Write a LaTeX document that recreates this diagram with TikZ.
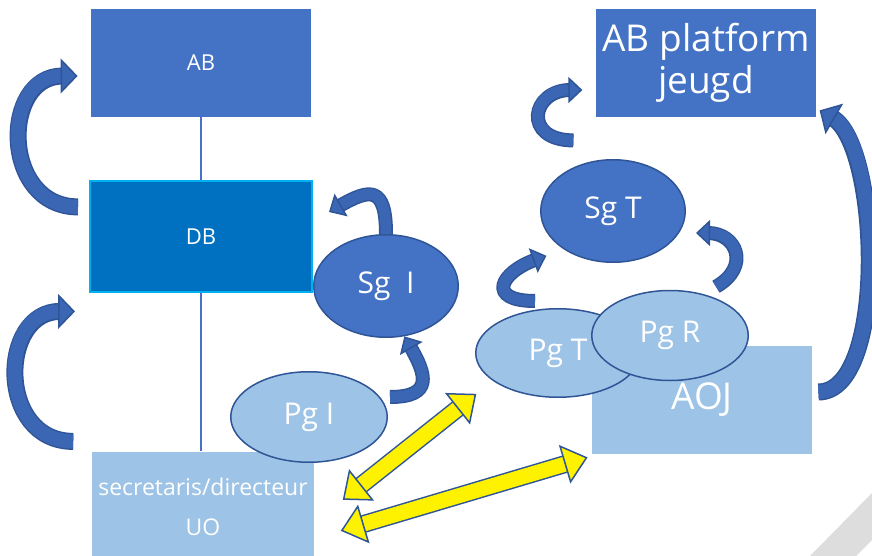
\documentclass[tikz,border=0pt]{standalone}
\usepackage{fontspec}
\setmainfont{Open Sans}
\usetikzlibrary{shapes.geometric, arrows.meta, positioning, calc}
\definecolor{boardblue}{HTML}{4472C4}
\definecolor{dbblue}{HTML}{0070C0}
\definecolor{dbedge}{HTML}{00B0F0}
\definecolor{paleblue}{HTML}{9DC3E6}
\definecolor{edgeblue}{HTML}{2F5597}
\definecolor{arrowblue}{HTML}{3B66B4}
\definecolor{cornergray}{HTML}{DDDDDD}
\tikzset{
    board/.style={
        rectangle,
        fill=boardblue,
        text=white,
        minimum width=110pt,
        minimum height=54pt,
        font=\fontsize{11}{13}\selectfont
    },
    dbbox/.style={
        board,
        draw=dbedge,
        line width=1pt,
        fill=dbblue,
        minimum width=111pt,
        minimum height=55.5pt
    },
    palebox/.style={
        rectangle,
        fill=paleblue,
        text=white,
        minimum width=110pt,
        minimum height=54pt
    },
    bigtext/.style={
        font=\fontsize{18.5}{21}\selectfont
    },
    darkoval/.style={
        ellipse,
        draw=edgeblue,
        line width=0.75pt,
        fill=boardblue,
        text=white,
        inner sep=0pt,
        font=\fontsize{15}{18}\selectfont
    },
    paleoval/.style={
        darkoval,
        fill=paleblue
    },
    orgline/.style={
        draw=boardblue,
        line width=0.6pt
    },
    bendarrow/.style={
        draw=arrowblue,
        line width=7pt,
        -{Triangle[width=17.5pt, length=8.5pt, line width=0.75pt, color=edgeblue, fill=arrowblue]},
        preaction={draw=edgeblue, line width=8.5pt, arrows=-, shorten >=7.5pt}
    },
    hookarrow/.style={
        draw=arrowblue,
        line width=5.5pt,
        -{Triangle[width=13pt, length=7pt, line width=0.75pt, color=edgeblue, fill=arrowblue]},
        preaction={draw=edgeblue, line width=7pt, arrows=-, shorten >=6pt}
    },
    twoway/.style={
        draw=yellow,
        line width=7.5pt,
        {Triangle[width=20pt, length=12pt, line width=0.75pt, color=edgeblue, fill=yellow]}-{Triangle[width=20pt, length=12pt, line width=0.75pt, color=edgeblue, fill=yellow]},
        preaction={draw=edgeblue, line width=9pt, arrows=-, shorten <=11pt, shorten >=11pt}
    }
}

\begin{document}
\begin{tikzpicture}[x=0.5pt, y=-0.5pt]
\useasboundingbox (0,0) rectangle (872,556);

% Corner
\fill[cornergray] (810,556) -- (872,493) -- (872,540) -- (856,556) -- cycle;

% Left column
\node[board] (ab) at (201,63) {AB};
\node[dbbox, below=31.5pt of ab] (db) {DB};
\node[palebox, below=79pt of db, xshift=1pt, minimum height=55.5pt, align=center, font=\fontsize{11.5}{20}\selectfont] (secr) {secretaris/directeur\\UO};

% Right column
\node[board, bigtext, right=142pt of ab, minimum width=109.5pt, align=center] (abp) {AB platform\\jeugd};
\node[palebox, bigtext] (aoj) at (702,400) {AOJ};

% Ovals
\node[paleoval, minimum width=82.25pt, minimum height=44.25pt] (pgt) at (558,353) {Pg T};
\node[paleoval, minimum width=78.25pt, minimum height=45pt] (pgr) at (670,335.5) {Pg R};
\node[darkoval, minimum width=72.25pt, minimum height=51.25pt] (sgt) at (613,211) {Sg T};
\node[darkoval, minimum width=72.25pt, minimum height=51.25pt] (sgi) at (386,286) {Sg\ \ I};
\node[paleoval, minimum width=78.25pt, minimum height=45.25pt] (pgi) at (309,417) {Pg I};

% Lines
\draw[orgline] (ab) -- (db);
\draw[orgline] (db) -- (secr.north -| db);

% Curved arrows
\draw[bendarrow] ($(db.west)+(-11,-30)$) to[out=180, in=180, looseness=1.5] ($(ab.west)+(-13,13)$);
\draw[bendarrow] ($(secr.north west)+(-18,-10)$) to[out=180, in=180, looseness=1.5] ($(db.south west)+(-14,18)$);
\draw[bendarrow] ($(aoj.east)+(6,-8)$) to[out=0, in=-30, looseness=0.63] ($(abp.south east)+(3,-7)$);
\draw[hookarrow] (sgi.north) to[out=90, in=30, looseness=2] ($(sgi.north)+(-57,-22)$);
\draw[hookarrow] ($(pgi.east)+(2,-20)$) to[out=0, in=300, looseness=1.8] (sgi.-70);
\draw[hookarrow] ($(pgt.north)+(-23,-7)$) to[out=180, in=200, looseness=2.7] ($(sgt.south west)+(-15,8)$);
\draw[hookarrow] ($(pgr.north)+(46,-3)$) to[out=30, in=0, looseness=1.8] ($(sgt.east)+(10,22)$);
\draw[hookarrow] ($(abp.south west)+(-22,23)$) to[out=180, in=180, looseness=2.56] ($(abp.west)+(-13,27)$);

% Yellow links
\draw[twoway] ($(secr.east)+(28,-7.5)$) -- ($(pgt.south west)+(-23,9)$);
\draw[twoway] ($(secr.east)+(26,23.5)$) -- ($(aoj.south west)+(-4,3)$);

\end{tikzpicture}
\end{document}
